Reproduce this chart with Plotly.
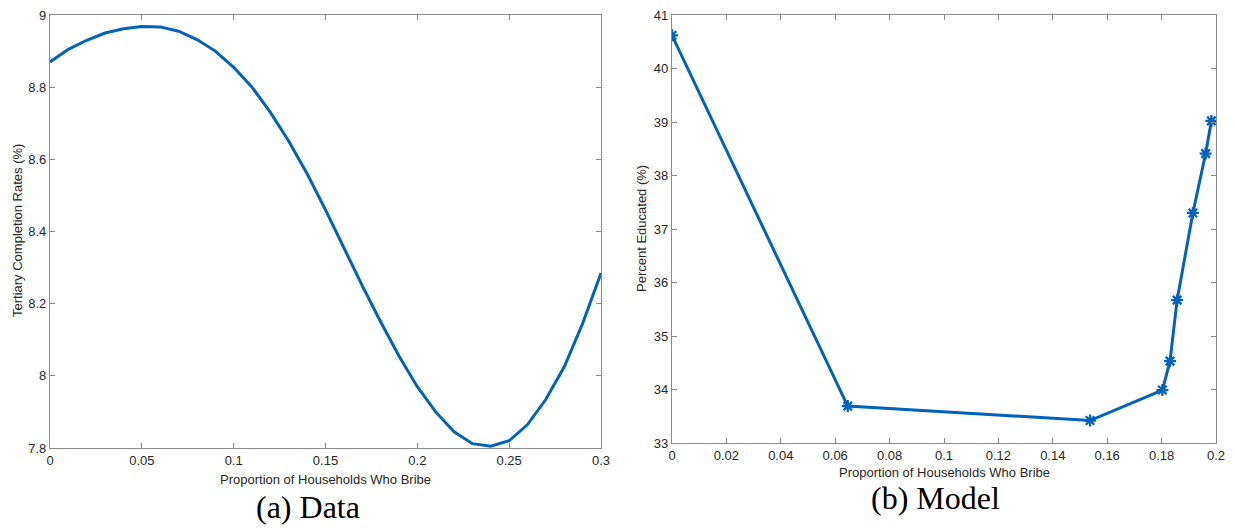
import plotly.graph_objects as go

# Panel (a) Data
data_x = [0.00, 0.01, 0.02, 0.03, 0.04, 0.05, 0.06, 0.07, 0.08, 0.09, 0.10,
          0.11, 0.12, 0.13, 0.14, 0.15, 0.16, 0.17, 0.18, 0.19, 0.20,
          0.21, 0.22, 0.23, 0.24, 0.25, 0.26, 0.27, 0.28, 0.29, 0.30]
data_y = [8.870, 8.905, 8.930, 8.950, 8.962, 8.968, 8.967, 8.955, 8.932, 8.900, 8.855,
          8.800, 8.730, 8.650, 8.560, 8.460, 8.355, 8.250, 8.150, 8.055, 7.970,
          7.900, 7.845, 7.812, 7.805, 7.820, 7.865, 7.935, 8.025, 8.145, 8.285]

# Panel (b) Model
model_x = [0.0, 0.0646, 0.1537, 0.1803, 0.1831, 0.1857, 0.1915, 0.1962, 0.1983]
model_y = [40.62, 33.69, 33.42, 33.99, 34.53, 35.67, 37.30, 38.41, 39.02]

left_xticks = [0, 0.05, 0.1, 0.15, 0.2, 0.25, 0.3]
left_yticks = [7.8, 8, 8.2, 8.4, 8.6, 8.8, 9]
right_xticks = [0, 0.02, 0.04, 0.06, 0.08, 0.1, 0.12, 0.14, 0.16, 0.18, 0.2]
right_yticks = [33, 34, 35, 36, 37, 38, 39, 40, 41]

LINE = "#0062BA"
AX = "#8a8a8a"
TXT = "#262626"
W, H = 1236, 528

fig = go.Figure()
fig.add_trace(go.Scatter(x=data_x, y=data_y, mode="lines",
                         line=dict(color=LINE, width=3),
                         xaxis="x", yaxis="y", showlegend=False))
fig.add_trace(go.Scatter(x=model_x, y=model_y, mode="lines+markers",
                         line=dict(color=LINE, width=3),
                         marker=dict(symbol="asterisk-open", size=10,
                                     color=LINE, line=dict(color=LINE, width=2.3)),
                         xaxis="x2", yaxis="y2", showlegend=False))

def px(x):
    return x / W

def py(y):
    return 1 - y / H

axis_common = dict(showline=True, linecolor=AX, linewidth=1.3, mirror="ticks",
                   ticks="inside", ticklen=5, tickcolor=AX, tickwidth=1,
                   showgrid=False, zeroline=False, automargin=False,
                   tickfont=dict(family="Liberation Sans, Arial", size=13, color=TXT))

fig.update_layout(
    width=W, height=H, autosize=False,
    margin=dict(l=0, r=0, t=0, b=0, pad=0),
    paper_bgcolor="white", plot_bgcolor="white",
    xaxis=dict(domain=[px(50), px(601)], range=[0, 0.3], tickvals=left_xticks,
               anchor="y", **axis_common),
    yaxis=dict(domain=[py(448), py(15)], range=[7.8, 9], tickvals=left_yticks,
               anchor="x", **axis_common),
    xaxis2=dict(domain=[px(672), px(1216)], range=[0, 0.2], tickvals=right_xticks,
                anchor="y2", **axis_common),
    yaxis2=dict(domain=[py(443), py(15)], range=[33, 41], tickvals=right_yticks,
                anchor="x2", **axis_common),
)

sans = dict(family="Liberation Sans, Arial", size=13, color=TXT)
serif = dict(family="Liberation Serif, Times New Roman", size=32, color="black")

annotations = [
    dict(text="Proportion of Households Who Bribe", x=px(325), y=py(479), font=sans),
    dict(text="Proportion of Households Who Bribe", x=px(944), y=py(472), font=sans),
    dict(text="Tertiary Completion Rates (%)", x=px(17), y=py(231), font=sans, textangle=-90),
    dict(text="Percent Educated (%)", x=px(641), y=py(229), font=sans, textangle=-90),
    dict(text="(a) Data", x=px(308), y=py(507), font=serif),
    dict(text="(b) Model", x=px(935), y=py(498), font=serif),
]
for a in annotations:
    fig.add_annotation(xref="paper", yref="paper", showarrow=False,
                       xanchor="center", yanchor="middle", **a)

fig.write_html("out.html")
